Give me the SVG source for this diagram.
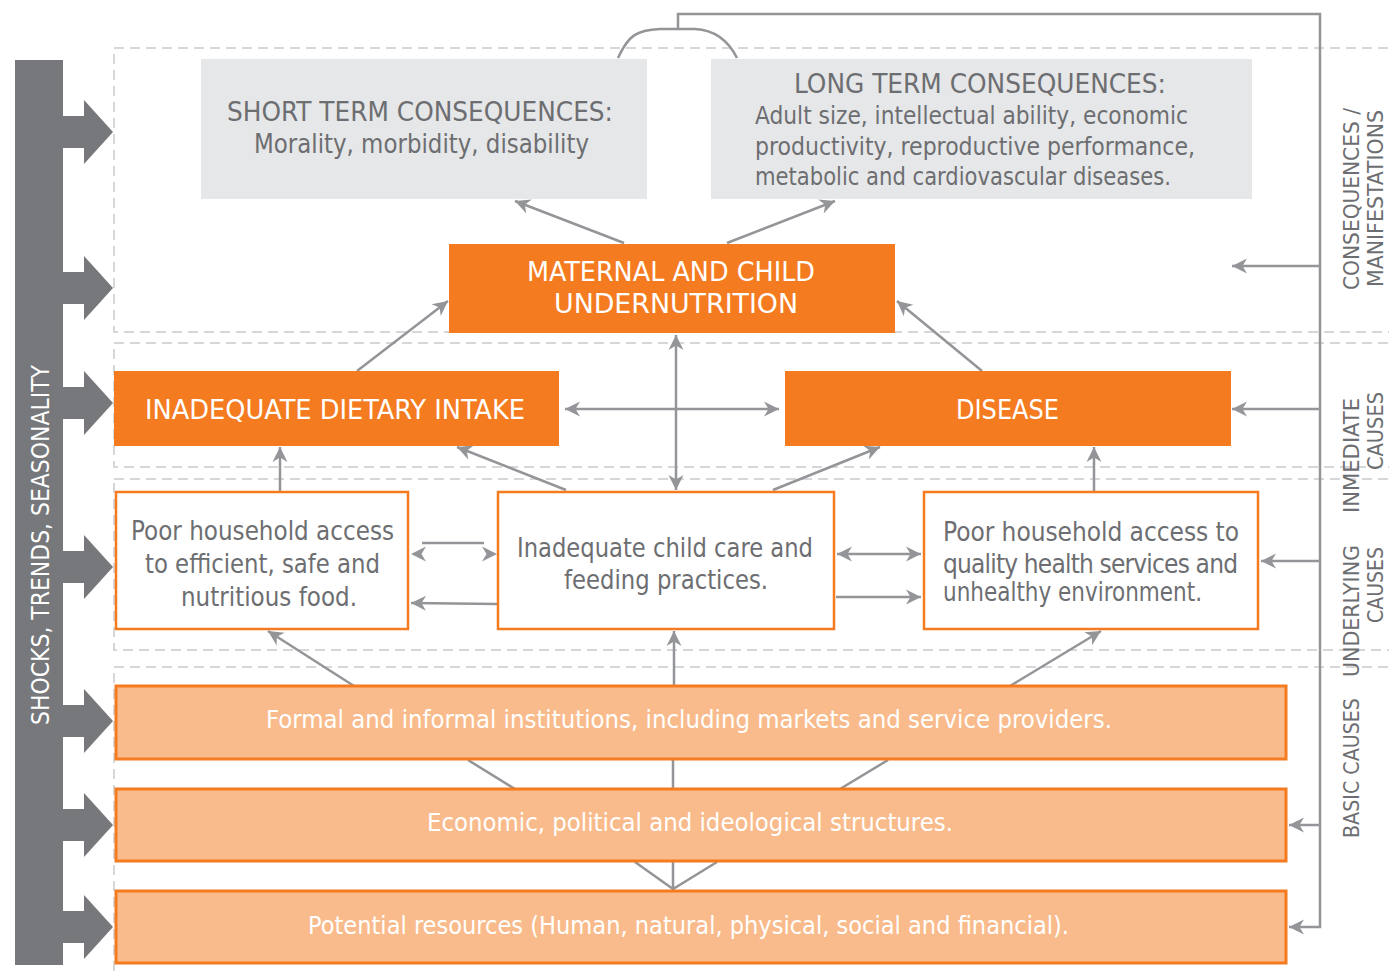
<svg xmlns="http://www.w3.org/2000/svg" width="1389" height="973" viewBox="0 0 1389 973">
<defs>
<style>
.band{fill:none;stroke:#d6d7d8;stroke-width:2;stroke-dasharray:10 6}
.t{font-family:"DejaVu Sans Condensed","DejaVu Sans",sans-serif;font-stretch:condensed}
.g{fill:#6d6e71}
.w{fill:#ffffff}
.gray{fill:#e6e7e8}
.or{fill:#f47b20}
.wb{fill:#ffffff;stroke:#f47b20;stroke-width:2.5}
.pb{fill:#f9bb8b;stroke:#f47b20;stroke-width:3}
.c{fill:none;stroke:#939598;stroke-width:2.5}
.ah{fill:#939598}
</style>
<marker id="a" markerWidth="18" markerHeight="18" refX="16" refY="9" orient="auto-start-reverse" markerUnits="userSpaceOnUse">
<path d="M16,9 L1,1.5 L5.5,9 L1,16.5 Z" fill="#939598"/>
</marker>
</defs>
<rect width="1389" height="973" fill="#ffffff"/>
<g id="bands">
<rect class="band" x="114" y="48" width="1300" height="284"/>
<rect class="band" x="114" y="343" width="1300" height="124"/>
<rect class="band" x="114" y="479" width="1300" height="171"/>
<rect class="band" x="114" y="667" width="1300" height="340"/>
</g>
<g id="shocks">
<rect x="15" y="60" width="48" height="905" fill="#77787b"/>
<path fill="#77787b" d="M62,116 H84 V100 L113,132 L84,164 V148 H62 Z M62,272 H84 V256 L113,288 L84,320 V304 H62 Z M62,387 H84 V371 L113,403 L84,435 V419 H62 Z M62,551 H84 V535 L113,567 L84,599 V583 H62 Z M62,705 H84 V689 L113,721 L84,753 V737 H62 Z M62,809 H84 V793 L113,825 L84,857 V841 H62 Z M62,911 H84 V895 L113,927 L84,959 V943 H62 Z"/>
<text class="t w" font-size="24" transform="translate(49,725) rotate(-90)" textLength="360" lengthAdjust="spacingAndGlyphs">SHOCKS, TRENDS, SEASONALITY</text>
</g>
<g id="connectors">
<path class="c" d="M624,243 L515,201" marker-end="url(#a)"/>
<path class="c" d="M727,243 L835,201" marker-end="url(#a)"/>
<path class="c" d="M357,371 L448,301" marker-end="url(#a)"/>
<path class="c" d="M982,371 L897,301" marker-end="url(#a)"/>
<path class="c" d="M676,490 L676,335" marker-start="url(#a)" marker-end="url(#a)"/>
<path class="c" d="M565,409 L779,409" marker-start="url(#a)" marker-end="url(#a)"/>
<path class="c" d="M566,490 L457,447" marker-end="url(#a)"/>
<path class="c" d="M773,490 L880,447" marker-end="url(#a)"/>
<path class="c" d="M280,491 L280,447" marker-end="url(#a)"/>
<path class="c" d="M1094,491 L1094,447" marker-end="url(#a)"/>
<path class="c" d="M422,543 L484,543" stroke-width="4"/>
<polygon class="ah" points="411,554 426,546.5 421.5,554 426,561.5"/>
<polygon class="ah" points="497,554 482,546.5 486.5,554 482,561.5"/>
<path class="c" d="M497,604 L411,603" marker-end="url(#a)"/>
<path class="c" d="M837,554 L921,554" stroke-width="4" marker-start="url(#a)" marker-end="url(#a)"/>
<path class="c" d="M836,597 L921,597" marker-end="url(#a)"/>
<path class="c" d="M354,686 L268,631" marker-end="url(#a)"/>
<path class="c" d="M674,686 L674,631" marker-end="url(#a)"/>
<path class="c" d="M1010,686 L1101,631" marker-end="url(#a)"/>
<path class="c" d="M468,760 L515,789 M673,760 V789 M888,760 L840,789"/>
<path class="c" d="M635,862 L673,889 L717,862 M673,862 V889"/>
<path class="c" d="M618,58 C628,36 636,30 660,29 L695,29 C715,30 728,40 737,58 M678,29 V14 H1320 V927 H1289" marker-end="url(#a)"/>
<path class="c" d="M1320,266 H1232" marker-end="url(#a)"/>
<path class="c" d="M1320,409 H1232" marker-end="url(#a)"/>
<path class="c" d="M1320,561 H1261" marker-end="url(#a)"/>
<path class="c" d="M1320,825 H1289" marker-end="url(#a)"/>
</g>
<g id="short-term">
<rect class="gray" x="201" y="59" width="446" height="140"/>
<text class="t g" font-size="27" x="227" y="121" textLength="386" lengthAdjust="spacingAndGlyphs">SHORT TERM CONSEQUENCES:</text>
<text class="t g" font-size="27" x="254" y="153" textLength="335" lengthAdjust="spacingAndGlyphs">Morality, morbidity, disability</text>
</g>
<g id="long-term">
<rect class="gray" x="711" y="59" width="541" height="140"/>
<text class="t g" font-size="27" x="794" y="93" textLength="372" lengthAdjust="spacingAndGlyphs">LONG TERM CONSEQUENCES:</text>
<text class="t g" font-size="25" x="755" y="124" textLength="433" lengthAdjust="spacingAndGlyphs">Adult size, intellectual ability, economic</text>
<text class="t g" font-size="25" x="755" y="155" textLength="440" lengthAdjust="spacingAndGlyphs">productivity, reproductive performance,</text>
<text class="t g" font-size="25" x="755" y="185" textLength="416" lengthAdjust="spacingAndGlyphs">metabolic and cardiovascular diseases.</text>
</g>
<g id="undernutrition">
<rect class="or" x="449" y="244" width="446" height="89"/>
<text class="t w" font-size="27" x="527" y="281" textLength="288" lengthAdjust="spacingAndGlyphs">MATERNAL AND CHILD</text>
<text class="t w" font-size="27" x="554" y="313" textLength="244" lengthAdjust="spacingAndGlyphs">UNDERNUTRITION</text>
</g>
<g id="dietary-intake">
<rect class="or" x="114" y="371" width="445" height="75"/>
<text class="t w" font-size="26" x="145" y="419" textLength="380" lengthAdjust="spacingAndGlyphs">INADEQUATE DIETARY INTAKE</text>
</g>
<g id="disease">
<rect class="or" x="785" y="371" width="446" height="75"/>
<text class="t w" font-size="26" x="956" y="419" textLength="103" lengthAdjust="spacingAndGlyphs">DISEASE</text>
</g>
<g id="food-access">
<rect class="wb" x="116" y="492" width="292" height="137"/>
<text class="t g" font-size="27" x="131" y="540" textLength="263" lengthAdjust="spacingAndGlyphs">Poor household access</text>
<text class="t g" font-size="27" x="145" y="573" textLength="235" lengthAdjust="spacingAndGlyphs">to efficient, safe and</text>
<text class="t g" font-size="27" x="181" y="606" textLength="176" lengthAdjust="spacingAndGlyphs">nutritious food.</text>
</g>
<g id="child-care">
<rect class="wb" x="498" y="492" width="336" height="137"/>
<text class="t g" font-size="27" x="517" y="557" textLength="296" lengthAdjust="spacingAndGlyphs">Inadequate child care and</text>
<text class="t g" font-size="27" x="564" y="589" textLength="204" lengthAdjust="spacingAndGlyphs">feeding practices.</text>
</g>
<g id="health-access">
<rect class="wb" x="924" y="492" width="334" height="137"/>
<text class="t g" font-size="26" x="943" y="541" textLength="296" lengthAdjust="spacing">Poor household access to</text>
<text class="t g" font-size="26" x="943" y="573" textLength="295" lengthAdjust="spacing">quality health services and</text>
<text class="t g" font-size="26" x="943" y="601" textLength="259" lengthAdjust="spacingAndGlyphs">unhealthy environment.</text>
</g>
<g id="institutions">
<rect class="pb" x="116" y="686" width="1170" height="73"/>
<text class="t w" font-size="25" x="266" y="728" textLength="846" lengthAdjust="spacingAndGlyphs">Formal and informal institutions, including markets and service providers.</text>
</g>
<g id="structures">
<rect class="pb" x="116" y="789" width="1170" height="72"/>
<text class="t w" font-size="25" x="427" y="831" textLength="526" lengthAdjust="spacingAndGlyphs">Economic, political and ideological structures.</text>
</g>
<g id="resources">
<rect class="pb" x="116" y="891" width="1170" height="72"/>
<text class="t w" font-size="25" x="308" y="934" textLength="761" lengthAdjust="spacingAndGlyphs">Potential resources (Human, natural, physical, social and financial).</text>
</g>
<g id="level-labels" class="t g" font-size="22">
<text transform="translate(1359,290) rotate(-90)" textLength="182" lengthAdjust="spacingAndGlyphs">CONSEQUENCES /</text>
<text transform="translate(1383,287) rotate(-90)" textLength="177" lengthAdjust="spacingAndGlyphs">MANIFESTATIONS</text>
<text transform="translate(1359,513) rotate(-90)" textLength="115" lengthAdjust="spacingAndGlyphs">INMEDIATE</text>
<text transform="translate(1383,470) rotate(-90)" textLength="78" lengthAdjust="spacingAndGlyphs">CAUSES</text>
<text transform="translate(1359,677) rotate(-90)" textLength="132" lengthAdjust="spacingAndGlyphs">UNDERLYING</text>
<text transform="translate(1383,623) rotate(-90)" textLength="76" lengthAdjust="spacingAndGlyphs">CAUSES</text>
<text transform="translate(1359,838) rotate(-90)" textLength="140" lengthAdjust="spacingAndGlyphs">BASIC CAUSES</text>
</g>
</svg>
